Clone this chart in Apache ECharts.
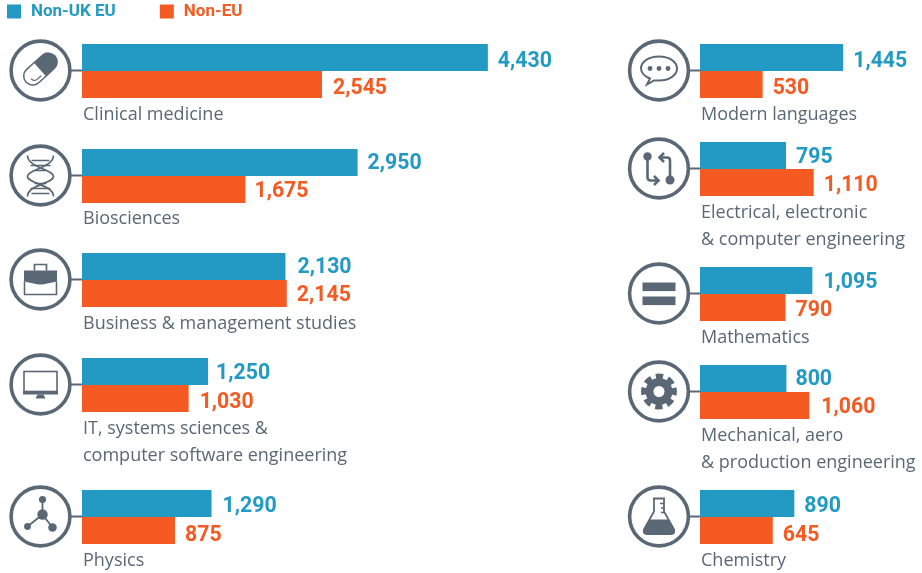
<!DOCTYPE html>
<html>
<head>
<meta charset="utf-8">
<style>
  html, body { margin: 0; padding: 0; background: #fff; }
  #main { width: 922px; height: 573px; }
</style>
<script src="https://cdn.jsdelivr.net/npm/echarts@6/dist/echarts.min.js"></script>
</head>
<body>
<div id="main"></div>
<script>
// 数据
var categories = ['Clinical medicine', 'Biosciences', 'Business & management studies',
    'IT, systems sciences &\ncomputer software engineering', 'Physics',
    'Modern languages', 'Electrical, electronic\n& computer engineering', 'Mathematics',
    'Mechanical, aero\n& production engineering', 'Chemistry'];
var nonUkEu = [4430, 2950, 2130, 1250, 1290, 1445, 795, 1095, 800, 890];
var nonEu = [2545, 1675, 2145, 1030, 875, 530, 1110, 790, 1060, 645];
var seriesNames = ['Non-UK EU', 'Non-EU'];

// 布局
var barTops = [44, 149, 253, 358, 490, 44, 142, 267, 365, 490];
var labelTops = [102, 206, 311, 416, 548, 102, 200, 325, 423, 548];
var icons = ['pill', 'dna', 'case', 'screen', 'molecule', 'speech', 'compare', 'equals', 'gear', 'flask'];
// hand placed value labels in the original, [dx, dy] from the default spot
var blueNudge = [[0, 4.5], [0, 1.5], [2, 1], [-2, 2.5], [1, 3], [0, 4.5], [0, 2.5], [1, 2.5], [-1, 1.5], [0, 3.5]];
var orangeNudge = [[1, 4.5], [-1, 2.5], [0, 2.5], [1, 4.5], [0, 5.5], [0, 4.5], [0, 3.5], [0, 3.5], [2, 2.5], [0, 5.5]];

var BLUE = '#229ac3', ORANGE = '#f45a21', GREY = '#5a6876';
var xMin = -182; // the bars do not start from zero in the original

var glyphs = {
    pill: '<g transform="translate(0 -1.5) rotate(-42)"><path d="M0-9H-10.5a9 9 0 0 0 0 18H0z" fill="none" stroke="' + GREY + '" stroke-width="1.5"/><path d="M0-9.6H10.5a9.6 9.6 0 0 1 0 19.2H0z" fill="' + GREY + '"/><path d="M-13.5 1a4.5 4.5 0 0 0 4.5 4.5h5" fill="none" stroke="' + GREY + '" stroke-width="1.3"/></g>',
    dna: '<g fill="none" stroke="' + GREY + '" stroke-width="1.7"><path d="M-13-20C-13-8 13-6 13 1S-13 9-13 21"/><path d="M13-20C13-8-13-6-13 1S13 9 13 21"/><path d="M-9-15H9M-10-10H10M-5-5H5M-6 8H6M-10 13H10M-9 18H9"/></g>',
    'case': '<path d="M-6-9V-15H6V-9" fill="none" stroke="' + GREY + '" stroke-width="1.7"/><path d="M-16.5-9H16.5V2L2 5H-2L-16.5 2z" fill="' + GREY + '"/><path d="M-16 2V15H16V2" fill="none" stroke="' + GREY + '" stroke-width="1.6"/>',
    screen: '<rect x="-16.5" y="-13" width="33" height="20" fill="none" stroke="' + GREY + '" stroke-width="1.6"/><rect x="-17.5" y="6.5" width="35" height="3.5" fill="' + GREY + '"/><path d="M-3 10H3L5 14H-5z" fill="' + GREY + '"/>',
    molecule: '<path d="M2-17V-2L-13 10M2-2L12 11" fill="none" stroke="' + GREY + '" stroke-width="1.8"/><circle cx="2" cy="-2" r="5.2" fill="' + GREY + '"/><circle cx="2" cy="-17" r="3.6" fill="' + GREY + '"/><circle cx="-13" cy="10" r="3.4" fill="' + GREY + '"/><circle cx="12" cy="11" r="4.3" fill="' + GREY + '"/>',
    speech: '<path d="M-9 8C-14 6-18 2-18-2C-18-9-10-14 0-14S18-9 18-2S10 10 0 10C-2 10-4 10-5 10L-12 14z" fill="none" stroke="' + GREY + '" stroke-width="2"/><circle cx="-9" cy="-2" r="2.4" fill="' + GREY + '"/><circle cy="-2" r="2.4" fill="' + GREY + '"/><circle cx="9" cy="-2" r="2.4" fill="' + GREY + '"/>',
    compare: '<g fill="none" stroke="' + GREY + '" stroke-width="2.6"><path d="M-11.5-12V9Q-11.5 12-8 12H-1M-5 7.5L-.5 12L-5 16.5"/><path d="M11 11V-8Q11-11 8-11H1M5-15.5L.5-11L5-6.5"/></g><circle cx="-11.5" cy="-12" r="4.2" fill="' + GREY + '"/><circle cx="11" cy="11.5" r="4.5" fill="' + GREY + '"/>',
    equals: '<rect x="-16.5" y="-11" width="33" height="8.6" fill="' + GREY + '"/><rect x="-16.5" y="3" width="33" height="8.6" fill="' + GREY + '"/>',
    gear: '<circle r="13.5" fill="' + GREY + '"/><circle r="15" fill="none" transform="rotate(-13.4)" stroke="' + GREY + '" stroke-width="6" stroke-dasharray="7 4.78"/><circle r="5.5" fill="#fff"/>',
    flask: '<path d="M-6-18H6M-5-18V-5L-15 13C-16 15.5-15 17.5-12 17.5H12C15 17.5 16 15.5 15 13L5-5V-18" fill="none" stroke="' + GREY + '" stroke-width="1.8"/><path d="M-9.5 3H9.5L15 13C16 15.5 15 17.5 12 17.5H-12C-15 17.5-16 15.5-15 13z" fill="' + GREY + '"/><path d="M1-13H5M2-8.5H5M2-4H5" stroke="' + GREY + '" stroke-width="1.5"/>'
};

function iconImage(name) {
    var svg = '<svg xmlns="http://www.w3.org/2000/svg" width="66" height="66" viewBox="-33 -33 66 66">' +
        '<circle r="29.4" fill="#fff" stroke="' + GREY + '" stroke-width="3.6"/>' + glyphs[name] + '</svg>';
    return 'data:image/svg+xml;charset=utf-8,' + encodeURIComponent(svg);
}

var myChart = echarts.init(document.getElementById('main'), null, { renderer: 'canvas' });

var grids = [], xAxes = [], yAxes = [], series = [], titles = [], graphics = [];

function valueLabel(color, nudge) {
    return {
        show: true,
        position: 'right',
        distance: 10,
        offset: nudge,
        color: color,
        fontFamily: 'Roboto',
        fontWeight: 'bold',
        fontSize: 21.3,
        formatter: function (p) { return p.value.toLocaleString('en-US'); }
    };
}

categories.forEach(function (name, i) {
    var leftCol = i < 5;
    var left = leftCol ? 82 : 700;
    var cx = leftCol ? 40.5 : 659;
    var cy = barTops[i] + 26.5;
    var span = leftCol ? 5000 : 2500;
    // 0.088 px per student in both columns
    grids.push({ left: left, top: barTops[i], width: span * 0.088, height: 54 });
    xAxes.push({ type: 'value', gridIndex: i, min: xMin, max: xMin + span, startValue: xMin, show: false });
    yAxes.push({ type: 'category', gridIndex: i, data: [name], inverse: true, show: false });
    series.push({
        name: seriesNames[0], type: 'bar', xAxisIndex: i, yAxisIndex: i, data: [nonUkEu[i]],
        barWidth: 27, barGap: 0, itemStyle: { color: BLUE }, label: valueLabel(BLUE, blueNudge[i]), silent: true
    });
    series.push({
        name: seriesNames[1], type: 'bar', xAxisIndex: i, yAxisIndex: i, data: [nonEu[i]],
        barWidth: 27, barGap: 0, itemStyle: { color: ORANGE }, label: valueLabel(ORANGE, orangeNudge[i]), silent: true
    });
    titles.push({
        text: name,
        left: left + 1,
        top: labelTops[i],
        padding: 0,
        textStyle: { fontFamily: 'Open Sans', fontWeight: 'normal', fontSize: 18, color: GREY, lineHeight: 26.5 }
    });
    graphics.push({ type: 'line', shape: { x1: cx + 30, y1: cy, x2: left, y2: cy }, style: { stroke: GREY, lineWidth: 2 }, silent: true });
    graphics.push({ type: 'image', style: { image: iconImage(icons[i]), x: cx - 33, y: cy - 33, width: 66, height: 66 }, silent: true });
});

var option = {
    animation: false,
    backgroundColor: '#fff',
    title: titles,
    legend: {
        data: seriesNames,
        left: 7,
        top: 3,
        padding: 0,
        icon: 'rect',
        itemWidth: 14,
        itemHeight: 14,
        itemGap: 44,
        selectedMode: false,
        textStyle: { color: 'inherit', fontFamily: 'Roboto', fontWeight: 'bold', fontSize: 17, padding: [3, 0, 0, 5] }
    },
    grid: grids,
    xAxis: xAxes,
    yAxis: yAxes,
    series: series,
    graphic: graphics
};
myChart.setOption(option);
</script>
</body>
</html>
